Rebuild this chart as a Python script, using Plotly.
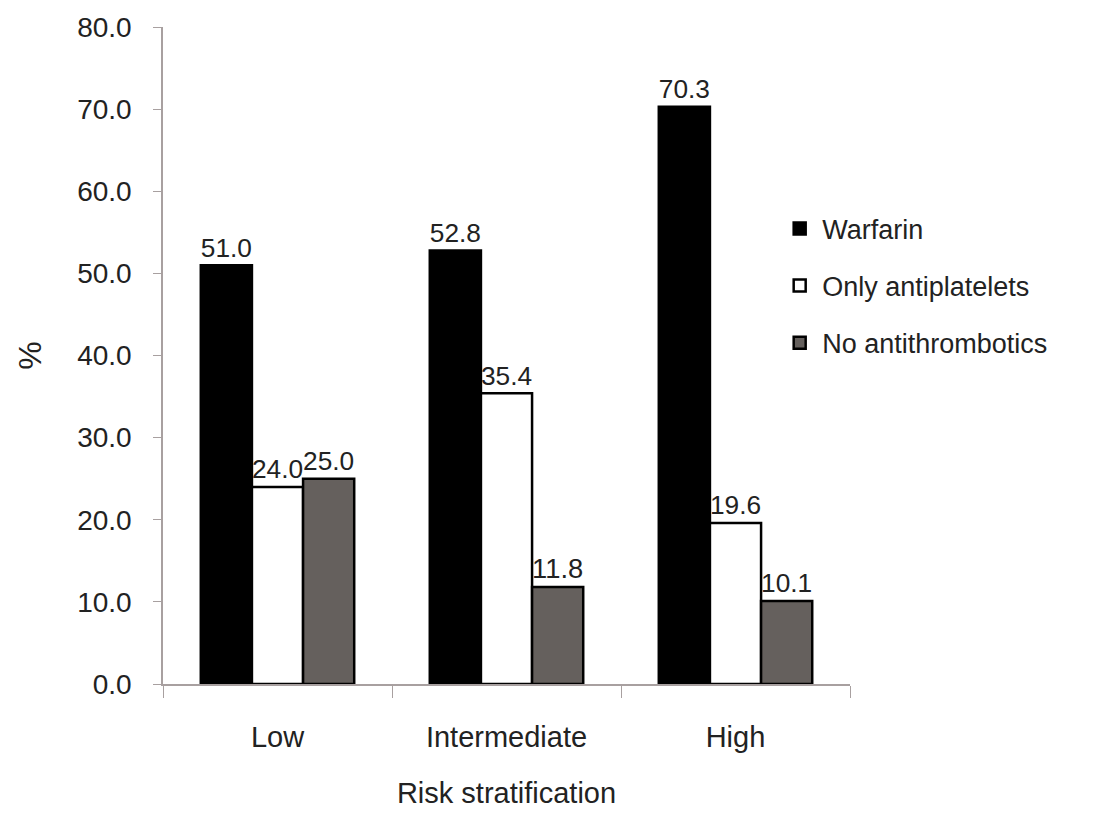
import plotly.graph_objects as go

categories = ["Low", "Intermediate", "High"]
warfarin = [51.0, 52.8, 70.3]
only_antiplatelets = [24.0, 35.4, 19.6]
no_antithrombotics = [25.0, 11.8, 10.1]
y_ticks = [0, 10, 20, 30, 40, 50, 60, 70, 80]

series = [
    ("Warfarin", warfarin, "#000000"),
    ("Only antiplatelets", only_antiplatelets, "#ffffff"),
    ("No antithrombotics", no_antithrombotics, "#65605d"),
]

font_family = "Liberation Sans, Arial, sans-serif"
text_color = "#222222"
axis_color = "#a8a0a0"

fig = go.Figure()
for i, (name, vals, color) in enumerate(series):
    fig.add_trace(go.Bar(
        x=categories, y=vals, name=name,
        marker=dict(color=color, line=dict(color="#000000", width=2.5)),
        text=[f"{v:.1f}" for v in vals],
        textposition="outside",
        textfont=dict(size=28, color=text_color, family=font_family),
        cliponaxis=False,
        legendgroup=f"g{i}",
    ))

fig.update_layout(
    width=1102, height=816,
    margin=dict(l=163, r=252, t=24, b=131),
    paper_bgcolor="white", plot_bgcolor="white",
    barmode="group", bargap=0.33, bargroupgap=0,
    font=dict(family=font_family, color=text_color),
    showlegend=True,
    legend=dict(
        x=0.894, xanchor="left", y=0.73, yanchor="top",
        font=dict(size=27, color=text_color),
        tracegroupgap=19,
        itemwidth=35,
        bgcolor="rgba(0,0,0,0)",
    ),
)

fig.update_xaxes(
    showline=True, linecolor=axis_color, linewidth=1.5,
    ticks="outside", tickson="boundaries", ticklen=12, tickcolor=axis_color,
    tickfont=dict(size=29, color=text_color),
    ticklabelstandoff=26,
    title=dict(text="Risk stratification", font=dict(size=29, color=text_color), standoff=31),
    showgrid=False, zeroline=False,
)

fig.update_yaxes(
    range=[0, 80], tickvals=y_ticks,
    ticktext=[f"{v:.1f}" for v in y_ticks],
    showline=True, linecolor=axis_color, linewidth=1.5,
    ticks="outside", ticklen=8, tickcolor=axis_color,
    tickfont=dict(size=28, color=text_color),
    ticklabelstandoff=16,
    title=dict(text="%", font=dict(size=32, color=text_color), standoff=26),
    showgrid=False, zeroline=False,
)

fig.write_html("out.html")
